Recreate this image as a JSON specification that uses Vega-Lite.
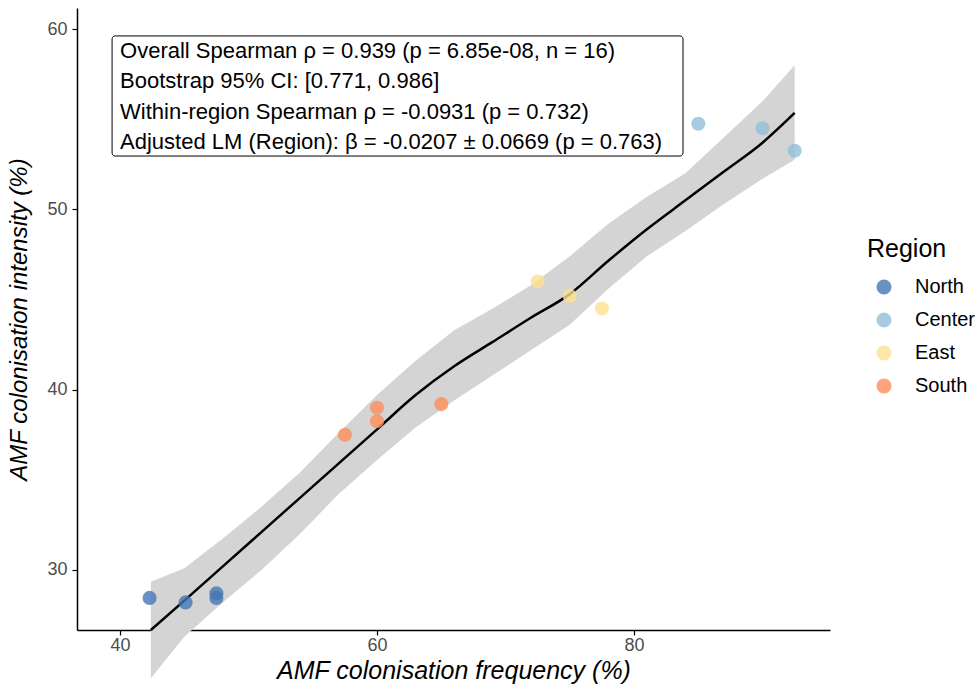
{
  "$schema": "https://vega.github.io/schema/vega-lite/v6.json",
  "width": 753,
  "height": 622,
  "autosize": {"type": "none"},
  "padding": {"left": 77, "top": 8, "right": 146, "bottom": 56},
  "background": "white",
  "config": {
    "view": {"stroke": null},
    "font": "Liberation Sans",
    "axis": {
      "grid": false,
      "domainColor": "black",
      "domainWidth": 1.5,
      "tickColor": "black",
      "tickWidth": 1.2,
      "tickSize": 5,
      "labelColor": "#4d4d4d",
      "labelFontSize": 18,
      "labelFont": "Liberation Sans",
      "titleFont": "Liberation Sans",
      "titleFontSize": 25,
      "titleFontStyle": "italic",
      "titleFontWeight": "normal",
      "titleColor": "black"
    }
  },
  "datasets": {
    "points": [
      {"freq": 42.3, "intensity": 28.45, "Region": "North"},
      {"freq": 45.1, "intensity": 28.2, "Region": "North"},
      {"freq": 47.5, "intensity": 28.7, "Region": "North"},
      {"freq": 47.5, "intensity": 28.45, "Region": "North"},
      {"freq": 85.0, "intensity": 54.75, "Region": "Center"},
      {"freq": 90.0, "intensity": 54.5, "Region": "Center"},
      {"freq": 92.5, "intensity": 53.25, "Region": "Center"},
      {"freq": 72.5, "intensity": 46.0, "Region": "East"},
      {"freq": 75.0, "intensity": 45.2, "Region": "East"},
      {"freq": 77.5, "intensity": 44.5, "Region": "East"},
      {"freq": 57.5, "intensity": 37.5, "Region": "South"},
      {"freq": 60.0, "intensity": 39.0, "Region": "South"},
      {"freq": 60.0, "intensity": 38.25, "Region": "South"},
      {"freq": 65.0, "intensity": 39.2, "Region": "South"}
    ],
    "smooth": [
      {"x": 42.4, "fit": 26.67, "lo": 24.0, "hi": 29.35},
      {"x": 45, "fit": 28.3, "lo": 26.3, "hi": 30.1},
      {"x": 48, "fit": 30.2, "lo": 28.2, "hi": 31.75},
      {"x": 51, "fit": 32.1, "lo": 30.0, "hi": 33.5},
      {"x": 54, "fit": 34.0, "lo": 32.0, "hi": 35.4},
      {"x": 57, "fit": 35.9, "lo": 34.2, "hi": 37.6},
      {"x": 60, "fit": 37.8, "lo": 36.1, "hi": 39.7},
      {"x": 63, "fit": 39.7, "lo": 37.9, "hi": 41.6},
      {"x": 66, "fit": 41.3, "lo": 39.4, "hi": 43.3},
      {"x": 69, "fit": 42.65, "lo": 40.8, "hi": 44.5},
      {"x": 72, "fit": 44.0, "lo": 42.2, "hi": 45.8},
      {"x": 75, "fit": 45.3, "lo": 43.6, "hi": 47.4},
      {"x": 78, "fit": 47.15, "lo": 45.6, "hi": 49.2},
      {"x": 81, "fit": 48.9, "lo": 47.4, "hi": 50.7},
      {"x": 84, "fit": 50.5, "lo": 48.8, "hi": 52.0},
      {"x": 87, "fit": 52.1, "lo": 50.3, "hi": 54.0},
      {"x": 90, "fit": 53.7, "lo": 51.7, "hi": 56.0},
      {"x": 92.5, "fit": 55.35, "lo": 52.75, "hi": 58.0}
    ],
    "box": [
      {"x1": 39.38, "x2": 83.81, "y1": 59.62, "y2": 52.96}
    ],
    "notes": [
      {"x": 40.0, "y": 58.8, "label": "Overall Spearman ρ = 0.939 (p = 6.85e-08, n = 16)"},
      {"x": 40.0, "y": 57.12, "label": "Bootstrap 95% CI: [0.771, 0.986]"},
      {"x": 40.0, "y": 55.42, "label": "Within-region Spearman ρ = -0.0931 (p = 0.732)"},
      {"x": 40.0, "y": 53.75, "label": "Adjusted LM (Region): β = -0.0207 ± 0.0669 (p = 0.763)"}
    ]
  },
  "layer": [
    {
      "data": {"name": "smooth"},
      "mark": {"type": "area", "color": "#d4d4d4", "opacity": 1},
      "encoding": {
        "x": {"field": "x", "type": "quantitative",
              "scale": {"domain": [36.65, 95.25], "nice": false, "zero": false},
              "axis": {"values": [40, 60, 80], "title": "AMF colonisation frequency (%)", "titlePadding": 4, "labelPadding": 1}},
        "y": {"field": "lo", "type": "quantitative",
              "scale": {"domain": [26.67, 61.17], "nice": false, "zero": false},
              "axis": {"values": [30, 40, 50, 60], "title": "AMF colonisation intensity (%)", "titleFontSize": 24, "titlePadding": 15, "labelPadding": 5}},
        "y2": {"field": "hi"}
      }
    },
    {
      "data": {"name": "smooth"},
      "mark": {"type": "line", "color": "black", "strokeWidth": 2.5, "interpolate": "monotone"},
      "encoding": {
        "x": {"field": "x", "type": "quantitative"},
        "y": {"field": "fit", "type": "quantitative"}
      }
    },
    {
      "data": {"name": "points"},
      "mark": {"type": "circle", "size": 200, "opacity": 0.8},
      "encoding": {
        "x": {"field": "freq", "type": "quantitative"},
        "y": {"field": "intensity", "type": "quantitative"},
        "color": {
          "field": "Region", "type": "nominal",
          "scale": {"domain": ["North", "Center", "East", "South"], "range": ["#4575b4", "#91bfdb", "#fee090", "#fc8d59"]},
          "legend": {
            "orient": "none", "legendX": 790, "legendY": 229,
            "title": "Region", "titleFontSize": 25, "titleFontWeight": "normal", "titleColor": "black",
            "titleFont": "Liberation Sans", "titlePadding": 15,
            "labelFontSize": 20, "labelColor": "black", "labelFont": "Liberation Sans",
            "symbolType": "circle", "symbolSize": 227, "symbolOpacity": 0.8, "symbolStrokeWidth": 0,
            "symbolOffset": 7, "labelOffset": 21, "rowPadding": 13
          }
        }
      }
    },
    {
      "data": {"name": "box"},
      "mark": {"type": "rect", "fill": "white", "stroke": "black", "strokeWidth": 1, "cornerRadius": 3},
      "encoding": {
        "x": {"field": "x1", "type": "quantitative"},
        "x2": {"field": "x2"},
        "y": {"field": "y1", "type": "quantitative"},
        "y2": {"field": "y2"}
      }
    },
    {
      "data": {"name": "notes"},
      "mark": {"type": "text", "align": "left", "baseline": "middle", "fontSize": 22, "font": "Liberation Sans", "color": "black"},
      "encoding": {
        "x": {"field": "x", "type": "quantitative"},
        "y": {"field": "y", "type": "quantitative"},
        "text": {"field": "label"}
      }
    }
  ]
}
